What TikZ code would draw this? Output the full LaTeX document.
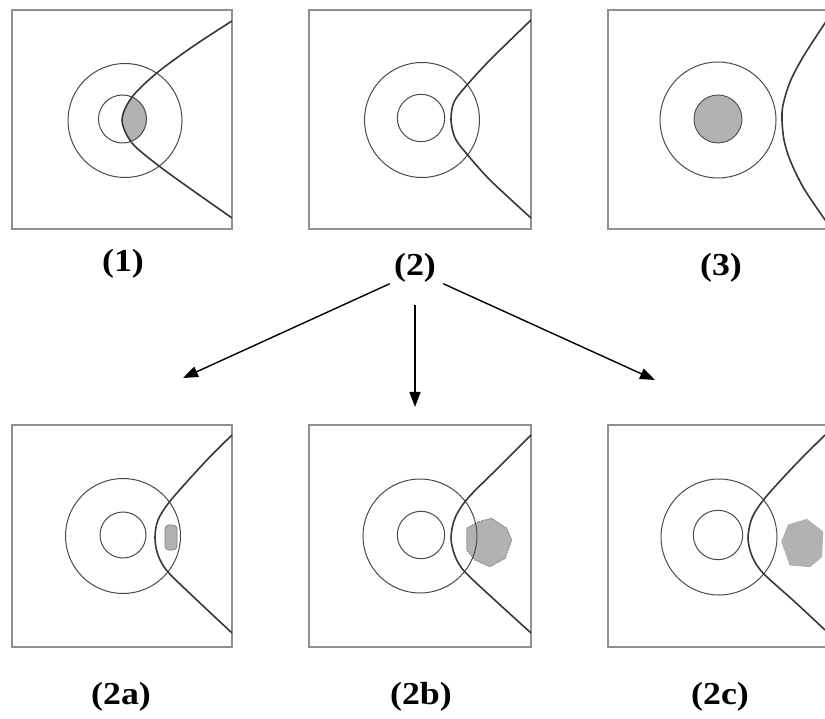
\documentclass[tikz,border=0pt]{standalone}
\usepackage{fontspec}
\setmainfont{Liberation Serif}
\usetikzlibrary{arrows.meta, positioning}
\definecolor{frameGrey}{HTML}{909090}
\definecolor{ringGrey}{HTML}{4A4A4A}
\definecolor{curveGrey}{HTML}{383838}
\definecolor{blobGrey}{HTML}{B2B2B2}
\definecolor{blobEdge}{HTML}{858585}
\tikzset{
  frame/.style  = {draw=frameGrey, line width=2pt},
  ring/.style   = {draw=ringGrey, line width=1pt},
  front/.style  = {draw=curveGrey, line width=1.6pt},
  blob/.style   = {fill=blobGrey, draw=blobEdge, line width=0.9pt},
  lbl/.style    = {font=\fontsize{32}{36}\selectfont\bfseries, inner sep=1pt,
                   xscale=1.12, transform shape},
  flow/.style   = {-{Triangle[length=15pt, width=11pt]}, line width=1.4pt},
}

\begin{document}
\begin{tikzpicture}[x=1pt, y=-1pt]
  \clip (0,0) rectangle (825,719);
  \fill[white] (0,0) rectangle (825,719);

  % (1) fuel in the inner zone, front through it
  \draw[frame] (12,10) rectangle (232,229);
  \begin{scope}
    \clip (122.5,119) circle (24);
    \fill[blobGrey] plot[smooth] coordinates {(232,21) (195,45) (158,72) (132,97) (122,120)
      (132,143) (159,166) (195,192) (232,218)} -- (260,218) -- (260,21) -- cycle;
  \end{scope}
  \draw[ring] (125,120.5) circle (57);
  \draw[ring] (122.5,119) circle (24);
  \draw[front] plot[smooth] coordinates {(232,21) (195,45) (158,72) (132,97) (122,120)
    (132,143) (159,166) (195,192) (232,218)};

  % (2) empty inner zone
  \draw[frame] (309,10) rectangle (531,229);
  \draw[ring] (422,120) circle (57.5);
  \draw[ring] (421,118) circle (23.7);
  \draw[front] plot[smooth] coordinates {(531,20) (490,60) (467,85) (454,102) (451,120)
    (455,138) (466,153) (490,180) (531,218)};

  % (3) fuel in the inner zone, front far away
  \draw[frame] (608,10) rectangle (828,229);
  \draw[ring] (718,120) circle (58);
  \draw[blob, draw=ringGrey] (718,119) circle (24);
  \draw[front] plot[smooth] coordinates {(830,15) (825,23) (803,57) (790,82) (783,105) (782,120)
    (784,140) (790,160) (803,187) (823,217) (830,226)};

  % (2a)
  \draw[frame] (12,425) rectangle (232,647);
  \draw[ring] (123,536) circle (57.5);
  \draw[ring] (123,535) circle (23);
  \draw[front] plot[smooth] coordinates {(232,435) (205,462) (171,500) (158,520) (155,538)
    (158,555) (168,572) (200,603) (232,633)};
  \draw[blob, rounded corners=4pt] (165,525) rectangle (177,550);

  % (2b)
  \draw[blob, dash pattern=on 2pt off 1pt] (478.3,521.7) -- (491.7,518.3) -- (506.7,528.3)
    -- (511.7,540) -- (505,558.3) -- (490,566.7) -- (475,560) -- (466.7,550)
    -- (466.7,528.3) -- cycle;
  \draw[frame] (309,425) rectangle (531,647);
  \draw[ring] (420,536) circle (57);
  \draw[ring] (421,535) circle (23.7);
  \draw[front] plot[smooth] coordinates {(531,435) (500,466) (468,498) (455,518) (451,538)
    (455,556) (465,572) (498,603) (531,633)};

  % (2c)
  \draw[frame] (608,425) rectangle (828,647);
  \draw[ring] (719,537) circle (58);
  \draw[ring] (718,535) circle (24.7);
  \draw[front] plot[smooth] coordinates {(825,435) (795,465) (765,498) (752,518) (748,538)
    (752,556) (763,573) (795,602) (825,630)};
  \draw[blob, draw=blobGrey] (781.7,541.7) -- (788.3,525) -- (806.7,519.3) -- (822.7,531.7)
    -- (821.7,556.7) -- (810,566.7) -- (790,565) -- cycle;

  % labels
  \node[lbl] (one)   at (123,264) {(1)};
  \node[lbl] (two)   at (415,268) {(2)};
  \node[lbl] (three) at (721,268) {(3)};
  \node[lbl] (twoA)  at (121,697) {(2a)};
  \node[lbl] (twoB)  at (421,697) {(2b)};
  \node[lbl] (twoC)  at (720,697) {(2c)};

  % branching of case (2)
  \coordinate (toA) at (183,378);
  \coordinate (toB) at (415,407);
  \coordinate (toC) at (655,380);
  \draw[flow] ([xshift=-3pt]two.south west) -- (toA);
  \draw[flow] ([yshift=-21pt]two.south) -- (toB);
  \draw[flow] ([xshift=6pt]two.south east) -- (toC);
\end{tikzpicture}
\end{document}
